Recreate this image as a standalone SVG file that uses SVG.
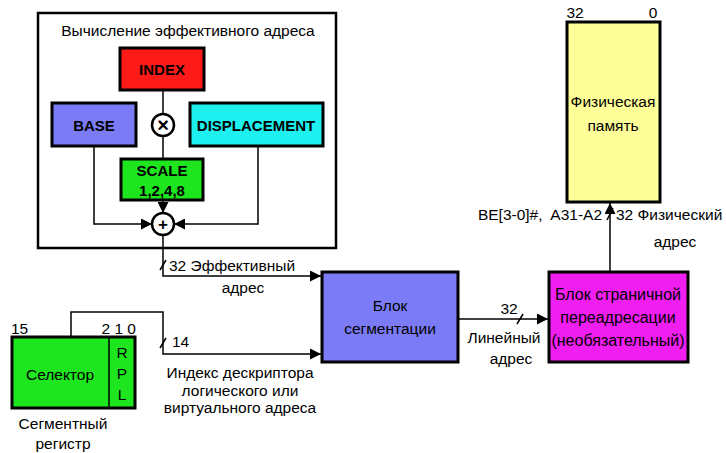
<svg xmlns="http://www.w3.org/2000/svg" width="726" height="453" viewBox="0 0 726 453">
<defs>
<marker id="ah" viewBox="0 0 10 10" refX="10" refY="5" markerWidth="11" markerHeight="11" markerUnits="userSpaceOnUse" orient="auto">
<path d="M0,0 L10,5 L0,10 z" fill="#000"/>
</marker>
</defs>
<style>
text{font-family:"Liberation Sans",Arial,sans-serif;font-size:15.5px;fill:#000;text-anchor:middle;dominant-baseline:central}
.b{font-weight:bold;font-size:15px}
.box{stroke:#000;stroke-width:3}
.ln{fill:none;stroke:#000;stroke-width:1.5}
.c{fill:#fff;stroke:#000;stroke-width:2.5}
.l{text-anchor:start}
.r{text-anchor:end}
.p{font-size:16px}
</style>
<rect width="726" height="453" fill="#fff"/>
<g id="ea-frame">
<rect x="38" y="13" width="298" height="235" fill="#fff" stroke="#000" stroke-width="2.5"/>
<text x="188" y="30">Вычисление эффективного адреса</text>
</g>
<g id="connectors">
<path class="ln" d="M163,90 V114"/>
<path class="ln" d="M163,136 V159"/>
<path class="ln" d="M163,200 V213" marker-end="url(#ah)"/>
<path class="ln" d="M94,146 V224 H152" marker-end="url(#ah)"/>
<path class="ln" d="M258,146 V224 H174" marker-end="url(#ah)"/>
<path class="ln" d="M163,235 V276 H321" marker-end="url(#ah)"/>
<path class="ln" d="M71,337 V312 H163 V354 H321" marker-end="url(#ah)"/>
<path class="ln" d="M458,319 H548" marker-end="url(#ah)"/>
<path class="ln" d="M610,272 V203" marker-end="url(#ah)"/>
<path class="ln" d="M160,270 L166,260 M160,348 L166,338 M517,324 L523,314 M607,220 L613,208"/>
</g>
<g id="index">
<rect class="box" x="120" y="48" width="84" height="42" fill="#ff1a1a"/>
<text class="b" x="162" y="69">INDEX</text>
</g>
<g id="base">
<rect class="box" x="52" y="103" width="84" height="43" fill="#7b7bf5"/>
<text class="b" x="94" y="125">BASE</text>
</g>
<g id="mul">
<circle class="c" cx="163" cy="125" r="11"/>
<text class="b" x="163" y="125" style="font-size:20px">×</text>
</g>
<g id="displacement">
<rect class="box" x="190" y="103" width="133" height="43" fill="#1ef0f0"/>
<text class="b" x="256" y="125">DISPLACEMENT</text>
</g>
<g id="scale">
<rect class="box" x="121" y="159" width="82" height="41" fill="#1ee61e"/>
<text class="b" x="162" y="170">SCALE</text>
<text class="b" x="162" y="190">1,2,4,8</text>
</g>
<g id="add">
<circle class="c" cx="163" cy="224" r="11"/>
<text class="b" x="163" y="224" style="font-size:17px">+</text>
</g>
<g id="ea-label">
<text class="l" x="169" y="265">32  Эффективный</text>
<text x="243" y="287">адрес</text>
</g>
<g id="selector">
<rect class="box" x="12" y="337" width="123" height="71" fill="#1ee61e"/>
<line x1="109" y1="337" x2="109" y2="408" stroke="#000" stroke-width="1.5"/>
<text x="60" y="374">Селектор</text>
<text x="122" y="352">R</text>
<text x="122" y="373">P</text>
<text x="122" y="394">L</text>
<text class="l" x="11" y="328">15</text>
<text class="r" x="136" y="328">2 1 0</text>
<text x="63" y="423">Сегментный</text>
<text x="63" y="443">регистр</text>
</g>
<g id="index-label">
<text class="l" x="172" y="341">14</text>
<text x="240" y="372">Индекс дескриптора</text>
<text x="240" y="390">логического или</text>
<text x="240" y="407">виртуального адреса</text>
</g>
<g id="segmentation">
<rect class="box" x="322" y="272" width="136" height="90" fill="#7b7bf5"/>
<text x="390" y="305">Блок</text>
<text x="390" y="328">сегментации</text>
</g>
<g id="linear-label">
<text x="509" y="308">32</text>
<text x="504" y="337">Линейный</text>
<text x="511" y="358">адрес</text>
</g>
<g id="paging">
<rect class="box" x="549" y="272" width="139" height="90" fill="#f01ef0"/>
<text class="p" x="618" y="294">Блок страничной</text>
<text class="p" x="618" y="317">переадресации</text>
<text class="p" x="618" y="340">(необязательный)</text>
</g>
<g id="memory">
<rect class="box" x="567" y="22" width="93" height="180" fill="#ffff99"/>
<text x="613" y="101">Физическая</text>
<text x="613" y="125">память</text>
<text x="575" y="12">32</text>
<text x="653" y="12">0</text>
</g>
<g id="phys-label">
<text class="r" x="602" y="214">BE[3-0]#,&#160; A31-A2</text>
<text class="l" x="616" y="214">32 Физический</text>
<text x="675" y="241">адрес</text>
</g>
</svg>
